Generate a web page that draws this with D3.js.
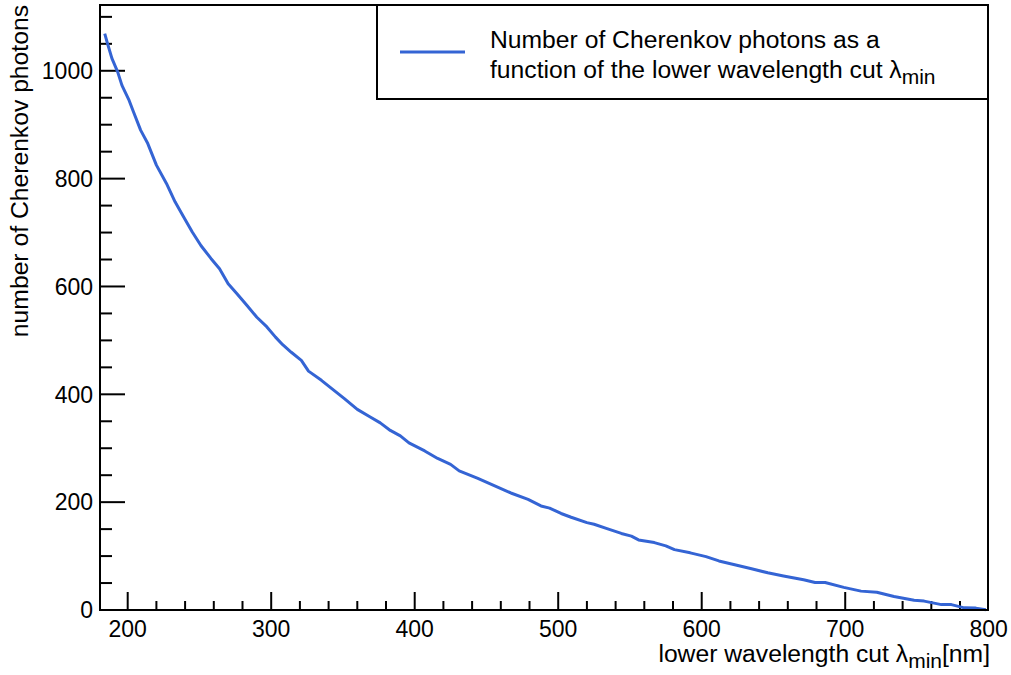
<!DOCTYPE html>
<html>
<head>
<meta charset="utf-8">
<script src="https://cdn.jsdelivr.net/npm/d3@7"></script>
<style>
  body { margin: 0; background: #fff; }
  text { font-family: "Liberation Sans", Arial, sans-serif; fill: #000; }
</style>
</head>
<body>
<div class="canvas"></div>
<script>
// Data

const wavelengths = [184, 186, 189, 193, 196, 201, 204, 209, 214, 220, 227, 233, 239, 245, 251,
    258, 264, 270, 276, 283, 290, 297, 303, 308, 314, 321, 326, 335, 342, 351, 360, 369,
    376, 383, 390, 396, 407, 416, 425, 431, 444, 455, 467, 479, 488, 494, 502, 509, 520,
    525, 534, 544, 551, 556, 567, 575, 581, 592, 603, 612, 623, 634, 646, 657, 671, 679,
    686, 699, 711, 722, 734, 748, 755, 767, 774, 783, 791, 798];
const photons = [1069, 1050, 1023, 998, 973, 945, 924, 890, 865, 825, 791, 757, 729, 701, 676,
    652, 633, 605, 587, 565, 543, 525, 506, 492, 478, 463, 443, 426, 411, 392, 372, 358,
    347, 333, 323, 310, 295, 281, 270, 258, 244, 231, 217, 205, 193, 189, 179, 172, 162,
    159, 151, 142, 137, 130, 125, 119, 112, 106, 99, 91, 84, 77, 69, 63, 56, 51,
    51, 42, 35, 33, 25, 18, 16.5, 10, 10, 4, 3.5, 0.5];

const xMajorTicks = [200, 300, 400, 500, 600, 700, 800];
const xMinorTicks = d3.range(200, 801, 20);
const yMajorTicks = [0, 200, 400, 600, 800, 1000];
const yMinorTicks = d3.range(0, 1101, 50);

const data = wavelengths.map((w, i) => ({ w: w, n: photons[i] }));

// Set dimensions & margins

const W = 1011, H = 675;
const margin = { top: 5, right: 23, bottom: 65, left: 100 };
const width = W - margin.left - margin.right;
const height = H - margin.top - margin.bottom;

const lineColor = "#3464d4";
const labelSize = 23;   // tick labels
const textSize = 24.7;  // titles & legend
const subSize = 21;

// Scales

const x = d3.scaleLinear()
    .domain([180.7, 799.5])
    .range([0, width]);

const y = d3.scaleLinear()
    .domain([0, 1122])
    .range([height, 0]);

const svg = d3.select(".canvas")
    .append("svg")
        .attr("width", W)
        .attr("height", H)
    .append("g")
        .attr("transform", `translate(${margin.left}, ${margin.top})`);

// Ticks (only inside the frame, bottom & left)

svg.selectAll("xMinor")
    .data(xMinorTicks.filter(d => x(d) > 0 && x(d) <= width + 0.5))
    .join("line")
    .attr("x1", d => x(d)).attr("x2", d => x(d))
    .attr("y1", height).attr("y2", d => xMajorTicks.includes(d) ? height - 18 : height - 9)
    .attr("stroke", "#000")
    .attr("stroke-width", 2);

svg.selectAll("yMinor")
    .data(yMinorTicks.filter(d => y(d) >= 0))
    .join("line")
    .attr("y1", d => y(d)).attr("y2", d => y(d))
    .attr("x1", 0).attr("x2", d => yMajorTicks.includes(d) ? 25 : 12)
    .attr("stroke", "#000")
    .attr("stroke-width", 2);

// Tick labels

svg.selectAll("xLabel")
    .data(xMajorTicks)
    .join("text")
    .attr("x", d => x(d))
    .attr("y", height + 27)
    .attr("text-anchor", "middle")
    .style("font-size", labelSize + "px")
    .text(d => d);

svg.selectAll("yLabel")
    .data(yMajorTicks)
    .join("text")
    .attr("x", -7)
    .attr("y", d => y(d))
    .attr("dy", "0.36em")
    .attr("text-anchor", "end")
    .style("font-size", labelSize + "px")
    .text(d => d);

// Line

const line = d3.line()
    .x(d => x(d.w))
    .y(d => y(d.n));

svg.append("path")
    .datum(data)
    .attr("fill", "none")
    .attr("stroke", lineColor)
    .attr("stroke-width", 3)
    .attr("stroke-linejoin", "round")
    .attr("d", line);

// Frame

svg.append("rect")
    .attr("width", width)
    .attr("height", height)
    .attr("fill", "none")
    .attr("stroke", "#000")
    .attr("stroke-width", 2);

// Axis titles

const xTitle = svg.append("text")
    .attr("x", width + 2)
    .attr("y", height + 52)
    .attr("text-anchor", "end")
    .style("font-size", textSize + "px");
xTitle.append("tspan").text("lower wavelength cut λ");
xTitle.append("tspan").attr("dy", 6).style("font-size", subSize + "px").text("min");
xTitle.append("tspan").attr("dy", -6).text("[nm]");

svg.append("text")
    .attr("transform", `translate(${-72}, 0) rotate(-90)`)
    .attr("text-anchor", "end")
    .style("font-size", textSize + "px")
    .text("number of Cherenkov photons");

// Legend

const legend = svg.append("g")
    .attr("transform", `translate(${377 - margin.left}, 0)`);

legend.append("rect")
    .attr("width", 988 - 377)
    .attr("height", 94)
    .attr("fill", "#fff")
    .attr("stroke", "#000")
    .attr("stroke-width", 2);

legend.append("line")
    .attr("x1", 23).attr("x2", 88)
    .attr("y1", 47).attr("y2", 47)
    .attr("stroke", lineColor)
    .attr("stroke-width", 3);

legend.append("text")
    .attr("x", 113)
    .attr("y", 43)
    .style("font-size", textSize + "px")
    .text("Number of Cherenkov photons as a");

const l2 = legend.append("text")
    .attr("x", 113)
    .attr("y", 73)
    .style("font-size", textSize + "px");
l2.append("tspan").text("function of the lower wavelength cut λ");
l2.append("tspan").attr("dy", 6).style("font-size", subSize + "px").text("min");
</script>
</body>
</html>
